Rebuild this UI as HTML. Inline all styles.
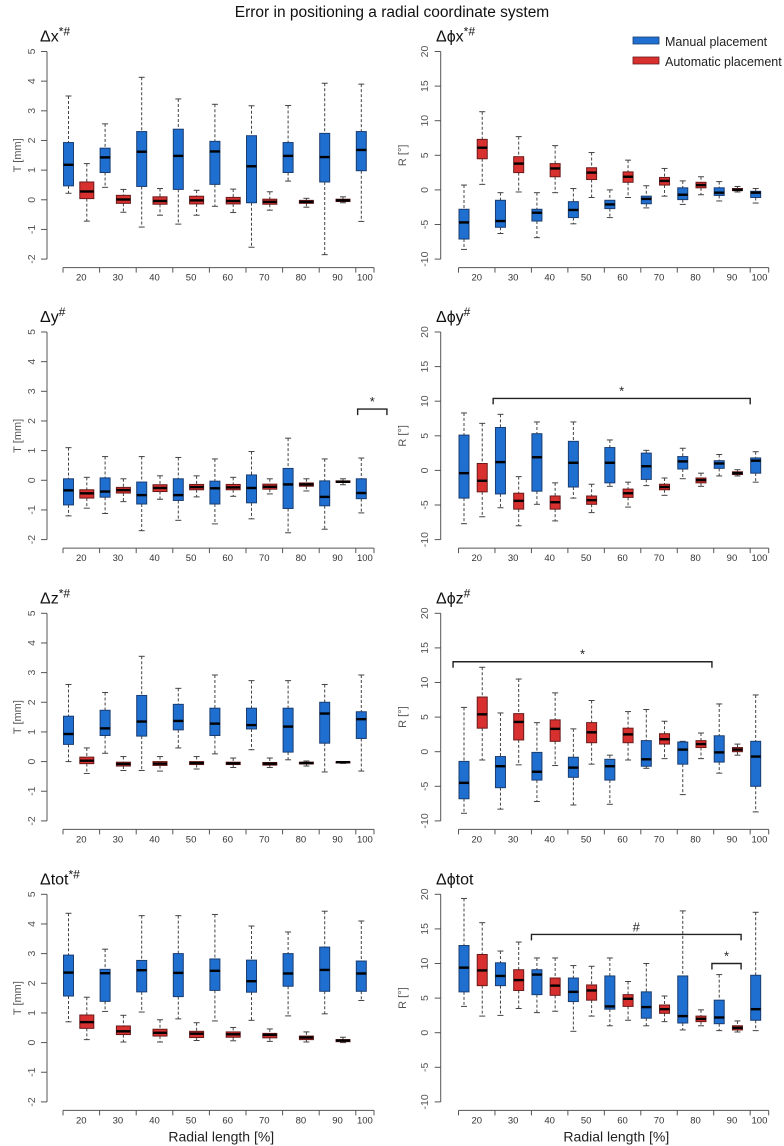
<!DOCTYPE html>
<html><head><meta charset="utf-8"><style>
html,body{margin:0;padding:0;background:#fff;}
svg{display:block;font-family:"Liberation Sans",sans-serif;}
</style></head><body>
<svg id="chart" width="784" height="1146" viewBox="0 0 784 1146">
<text x="392" y="17" font-size="15.5" text-anchor="middle" fill="#111">Error in positioning a radial coordinate system</text>
<g>
<rect x="633" y="37" width="26" height="7" fill="#1f6fd1" stroke="#1a3d70" stroke-width="0.8"/>
<text x="665" y="46" font-size="12.5" fill="#222">Manual placement</text>
<rect x="633" y="57" width="26" height="7" fill="#d8302f" stroke="#6a1a1a" stroke-width="0.8"/>
<text x="665" y="66" font-size="12.5" fill="#222">Automatic placement</text>
</g>
</svg>
<script>
// categories (radial length %)
const categories = [20,30,40,50,60,70,80,90,100];
const leftTicks = [5,4,3,2,1,0,-1,-2];
const rightTicks = [20,15,10,5,0,-5,-10];
// each box: [upperWhisker, q3, median, q1, lowerWhisker]
const dxManual = [[3.5,1.93,1.18,0.47,0.22],[2.56,1.74,1.43,0.92,0.42],[4.13,2.3,1.62,0.45,-0.92],[3.4,2.38,1.48,0.35,-0.82],[3.22,1.97,1.63,0.52,-0.22],[3.17,2.16,1.13,-0.1,-1.6],[3.18,1.93,1.48,0.92,0.63],[3.93,2.24,1.44,0.6,-1.85],[3.9,2.3,1.68,0.98,-0.73]];
const dxAuto = [[1.22,0.6,0.28,0.04,-0.72],[0.35,0.15,0.01,-0.12,-0.42],[0.38,0.1,-0.04,-0.15,-0.52],[0.32,0.12,-0.02,-0.14,-0.52],[0.36,0.08,-0.04,-0.14,-0.43],[0.27,0.02,-0.07,-0.15,-0.35],[0.05,-0.02,-0.07,-0.12,-0.25],[0.1,0.02,-0.02,-0.06,-0.1]];
const dpxManual = [[0.7,-2.8,-4.7,-7.1,-8.6],[-0.4,-1.5,-4.5,-5.4,-6.3],[-0.4,-2.8,-3.3,-4.5,-6.9],[0.2,-1.7,-2.9,-4.0,-4.9],[0.0,-1.5,-2.1,-2.7,-4.0],[0.6,-0.9,-1.3,-2.0,-2.6],[1.3,0.3,-0.7,-1.4,-2.1],[1.2,0.3,-0.4,-0.8,-1.6],[0.2,-0.2,-0.4,-1.1,-1.9]];
const dpxAuto = [[11.3,7.3,6.1,4.5,0.8],[7.7,4.8,3.8,2.5,-0.3],[6.4,3.8,3.1,1.9,-0.4],[5.4,3.2,2.5,1.5,-1.1],[4.3,2.6,1.9,1.1,-1.1],[3.1,1.8,1.3,0.7,-0.9],[1.9,1.1,0.7,0.3,-0.7],[0.5,0.2,0.0,-0.1,-0.3]];
const dyManual = [[1.1,0.05,-0.34,-0.83,-1.2],[0.8,0.08,-0.38,-0.57,-1.12],[0.8,-0.06,-0.5,-0.8,-1.7],[0.77,0.05,-0.5,-0.68,-1.35],[0.72,-0.03,-0.27,-0.8,-1.47],[0.97,0.18,-0.26,-0.76,-1.3],[1.42,0.4,-0.14,-0.95,-1.77],[0.72,-0.02,-0.56,-0.86,-1.65],[0.75,0.05,-0.43,-0.62,-1.1]];
const dyAuto = [[0.1,-0.32,-0.44,-0.6,-0.94],[0.05,-0.24,-0.33,-0.43,-0.72],[0.15,-0.15,-0.26,-0.38,-0.64],[0.15,-0.14,-0.23,-0.32,-0.56],[0.1,-0.14,-0.24,-0.32,-0.54],[0.05,-0.13,-0.22,-0.3,-0.46],[0.05,-0.09,-0.14,-0.2,-0.36],[0.05,-0.02,-0.05,-0.07,-0.15]];
const dpyManual = [[8.3,5.1,-0.4,-4.0,-7.7],[8.1,6.2,1.2,-3.4,-5.4],[7.0,5.3,1.9,-3.0,-4.9],[7.0,4.2,1.1,-2.4,-4.0],[4.4,3.3,1.1,-1.8,-2.3],[2.9,2.5,0.6,-1.3,-2.2],[3.2,2.0,1.3,0.2,-1.2],[2.3,1.4,1.0,0.3,-0.8],[2.7,1.8,1.4,-0.4,-1.7]];
const dpyAuto = [[6.8,1.0,-1.5,-3.1,-6.7],[-0.9,-3.3,-4.4,-5.6,-8.0],[-1.8,-3.7,-4.6,-5.6,-7.3],[-2.0,-3.7,-4.3,-4.9,-6.1],[-1.7,-2.7,-3.3,-3.9,-5.3],[-1.1,-2.0,-2.4,-2.8,-3.6],[-0.4,-1.1,-1.4,-1.8,-2.3],[0.1,-0.2,-0.4,-0.6,-0.8]];
const dzManual = [[2.6,1.53,0.93,0.58,0.0],[2.33,1.73,1.12,0.88,0.28],[3.55,2.23,1.35,0.86,-0.3],[2.47,1.93,1.37,1.07,0.46],[2.92,1.8,1.28,0.88,0.26],[2.73,1.8,1.23,1.1,0.4],[2.73,1.8,1.18,0.32,0.06],[2.6,2.0,1.62,0.62,-0.35],[2.92,1.68,1.43,0.78,-0.32]];
const dzAuto = [[0.46,0.15,0.03,-0.07,-0.4],[0.17,-0.02,-0.08,-0.15,-0.3],[0.17,0.0,-0.07,-0.13,-0.32],[0.17,0.0,-0.05,-0.1,-0.25],[0.12,-0.02,-0.06,-0.1,-0.2],[0.12,-0.03,-0.07,-0.12,-0.2],[0.02,-0.02,-0.05,-0.08,-0.15],[0.0,-0.01,-0.02,-0.04,-0.06]];
const dpzManual = [[6.4,-1.4,-4.5,-6.8,-8.9],[5.6,-0.7,-2.1,-5.2,-8.3],[4.2,-0.1,-2.9,-4.1,-7.2],[3.3,-0.8,-2.3,-3.7,-7.7],[-0.5,-1.1,-2.1,-4.1,-7.6],[6.1,1.6,-1.1,-2.1,-2.4],[1.5,1.4,0.3,-1.8,-6.2],[6.9,2.3,-0.1,-1.5,-3.1],[8.2,1.5,-0.7,-5.0,-8.7]];
const dpzAuto = [[12.2,7.9,5.4,3.4,-1.2],[10.5,5.5,4.3,1.7,-1.9],[8.5,4.6,3.3,1.5,-2.0],[7.4,4.2,2.8,1.3,-1.8],[5.8,3.4,2.5,1.3,-1.2],[4.4,2.6,1.8,1.1,-1.0],[2.7,1.6,1.1,0.6,-1.0],[1.1,0.6,0.3,0.0,-0.5]];
const dtManual = [[4.36,2.95,2.36,1.57,0.7],[3.15,2.47,2.34,1.39,1.05],[4.28,2.77,2.44,1.71,1.03],[4.28,3.0,2.35,1.55,0.8],[4.32,2.82,2.42,1.76,0.73],[3.93,2.78,2.07,1.7,0.75],[3.73,3.0,2.33,1.9,0.9],[4.43,3.22,2.45,1.73,0.97],[4.1,2.75,2.33,1.73,1.42]];
const dtAuto = [[1.53,0.93,0.69,0.48,0.1],[0.92,0.56,0.38,0.27,0.02],[0.77,0.45,0.33,0.22,0.02],[0.67,0.38,0.3,0.17,0.07],[0.51,0.36,0.28,0.18,0.06],[0.46,0.31,0.26,0.16,0.04],[0.36,0.22,0.17,0.1,0.02],[0.18,0.1,0.07,0.03,0.0]];
const dptManual = [[19.4,12.6,9.4,5.9,3.8],[11.8,10.1,8.2,6.8,2.5],[10.8,9.1,8.4,5.5,2.9],[9.7,7.9,5.9,4.5,0.2],[10.8,8.2,3.8,3.4,1.0],[10.0,5.9,3.7,2.1,1.0],[17.6,8.2,2.4,1.4,0.4],[8.4,4.7,2.2,1.3,0.3],[17.4,8.3,3.4,1.8,0.3]];
const dptAuto = [[15.9,11.3,9.0,6.8,2.4],[13.1,9.1,7.6,6.1,3.5],[10.8,7.9,6.8,5.4,3.1],[9.6,6.9,6.1,4.7,2.4],[7.4,5.5,4.9,3.8,1.8],[5.3,4.0,3.4,2.8,1.6],[3.3,2.4,2.0,1.6,1.0],[1.7,1.0,0.7,0.4,0.1]];
// significance brackets: [fromBoxIndex, toBoxIndex, value level, symbol]
const bracketDy = [[15.8,17.4,2.4,"*"]];
const bracketDpy = [[1.6,15.7,10.4,"*"]];
const bracketDpz = [[-0.6,13.6,13.0,"*"]];
const bracketDpt = [[3.7,15.2,14.2,"#"],[13.6,15.2,10.0,"*"]];

const NS="http://www.w3.org/2000/svg";
const svg=document.getElementById('chart');
function mk(tag,attrs,parent){const e=document.createElementNS(NS,tag);for(const k in attrs)e.setAttribute(k,attrs[k]);(parent||svg).appendChild(e);return e;}

const rowTop=[51.5,332,613.3,894.3];
const panels=[
 {side:0,row:0,title:"Δx",sup:"*#",m:dxManual,a:dxAuto,br:[]},
 {side:1,row:0,title:"Δϕx",sup:"*#",m:dpxManual,a:dpxAuto,br:[]},
 {side:0,row:1,title:"Δy",sup:"#",m:dyManual,a:dyAuto,br:bracketDy},
 {side:1,row:1,title:"Δϕy",sup:"#",m:dpyManual,a:dpyAuto,br:bracketDpy},
 {side:0,row:2,title:"Δz",sup:"*#",m:dzManual,a:dzAuto,br:[]},
 {side:1,row:2,title:"Δϕz",sup:"#",m:dpzManual,a:dpzAuto,br:bracketDpz},
 {side:0,row:3,title:"Δtot",sup:"*#",m:dtManual,a:dtAuto,br:[]},
 {side:1,row:3,title:"Δϕtot",sup:"",m:dptManual,a:dptAuto,br:bracketDpt}
];
const sideCfg=[
 {yAxisX:47,x0:68.5,step:18.3,axEnd:374,ticks:leftTicks,ymax:5,ymin:-2,ylab:"T [mm]",ylabX:21,tickLabX:35,titleX:40,redW:14,blueW:10},
 {yAxisX:440.7,x0:464,step:18.23,axEnd:768.7,ticks:rightTicks,ymax:20,ymin:-10,ylab:"R [°]",ylabX:406,tickLabX:428,titleX:436,redW:10,blueW:10}
];
const H=207.6;

panels.forEach((p,pi)=>{
 const c=sideCfg[p.side];const top=rowTop[p.row];const bot=top+H;
 const g=mk('g',{});
 
 
 const y=v=>top+(c.ymax-v)/(c.ymax-c.ymin)*H;
 const xc=k=>c.x0+k*c.step;
 const t=mk('text',{x:c.titleX,y:top-10,'font-size':16,fill:'#111'},g);
 
 
 t.textContent=p.title;
 if(p.sup){const ts=mk('tspan',{dy:-6,'font-size':12},t);ts.textContent=p.sup;}
 const ya=mk('line',{x1:c.yAxisX,x2:c.yAxisX,y1:y(c.ymax),y2:y(c.ymin),stroke:'#555','stroke-width':1},g);
 
 
 c.ticks.forEach(v=>{
  mk('line',{x1:c.yAxisX-6,x2:c.yAxisX,y1:y(v),y2:y(v),stroke:'#555','stroke-width':1},g);
  const tl=mk('text',{x:c.tickLabX,y:y(v),'font-size':10.5,fill:'#555','text-anchor':'middle',transform:`rotate(-90 ${c.tickLabX} ${y(v)})`},g);
  
  
  tl.textContent=v;
 });
 const yl=mk('text',{x:c.ylabX,y:top+H/2,'font-size':11,fill:'#555','text-anchor':'middle',transform:`rotate(-90 ${c.ylabX} ${top+H/2})`},g);
 
 
 yl.textContent=c.ylab;
 const axY=bot+8.5;
 const xa=mk('line',{x1:xc(0)-5.5,x2:c.axEnd,y1:axY,y2:axY,stroke:'#555','stroke-width':1},g);
 
 
 const bounds=categories.map((cat,i)=>xc(2*i)-5.5);bounds.push(c.axEnd);
 bounds.forEach(b=>mk('line',{x1:b,x2:b,y1:axY,y2:axY+5,stroke:'#555','stroke-width':1},g));
 categories.forEach((cat,i)=>{
  const xl=mk('text',{x:(bounds[i]+bounds[i+1])/2,y:axY+13,'font-size':9.5,fill:'#333','text-anchor':'middle'},g);
  
  
  xl.textContent=cat;
 });
 if(p.row===3){
  const xt=mk('text',{x:(xc(0)+c.axEnd)/2,y:axY+31,'font-size':14,fill:'#222','text-anchor':'middle'},g);
  
  
  xt.textContent='Radial length [%]';
 }
 function box(d,k,fill,stroke,w,name){
  const [hi,q3,med,q1,lo]=d;const x=xc(k);
  const bg=mk('g',{},g);
  
  
  mk('line',{x1:x,x2:x,y1:y(hi),y2:y(q3),stroke:'#444','stroke-width':1,'stroke-dasharray':'3,2'},bg);
  mk('line',{x1:x,x2:x,y1:y(q1),y2:y(lo),stroke:'#444','stroke-width':1,'stroke-dasharray':'3,2'},bg);
  mk('line',{x1:x-3,x2:x+3,y1:y(hi),y2:y(hi),stroke:'#444','stroke-width':1},bg);
  mk('line',{x1:x-3,x2:x+3,y1:y(lo),y2:y(lo),stroke:'#444','stroke-width':1},bg);
  mk('rect',{x:x-w/2,y:y(q3),width:w,height:Math.max(1,y(q1)-y(q3)),fill:fill,stroke:stroke,'stroke-width':1},bg);
  mk('line',{x1:x-w/2,x2:x+w/2,y1:y(med),y2:y(med),stroke:'#000','stroke-width':2.4},bg);
 }
 p.m.forEach((d,i)=>box(d,2*i,'#1f6fd1','#1a3d70',c.blueW,'manual-box-'+categories[i]));
 p.a.forEach((d,i)=>box(d,2*i+1,'#d8302f','#6a1a1a',c.redW,'automatic-box-'+categories[i]));
 p.br.forEach(b=>{
  const [k1,k2,v,sym]=b;const x1=xc(k1),x2=xc(k2),yy=y(v);
  const bk=mk('path',{d:`M${x1},${yy+6}V${yy}H${x2}V${yy+6}`,fill:'none',stroke:'#222','stroke-width':1.4},g);
  
  
  const st=mk('text',{x:(x1+x2)/2,y:yy-3,'font-size':13,fill:'#222','text-anchor':'middle'},g);
  
  
  st.textContent=sym;
 });
});
</script>
</body></html>
